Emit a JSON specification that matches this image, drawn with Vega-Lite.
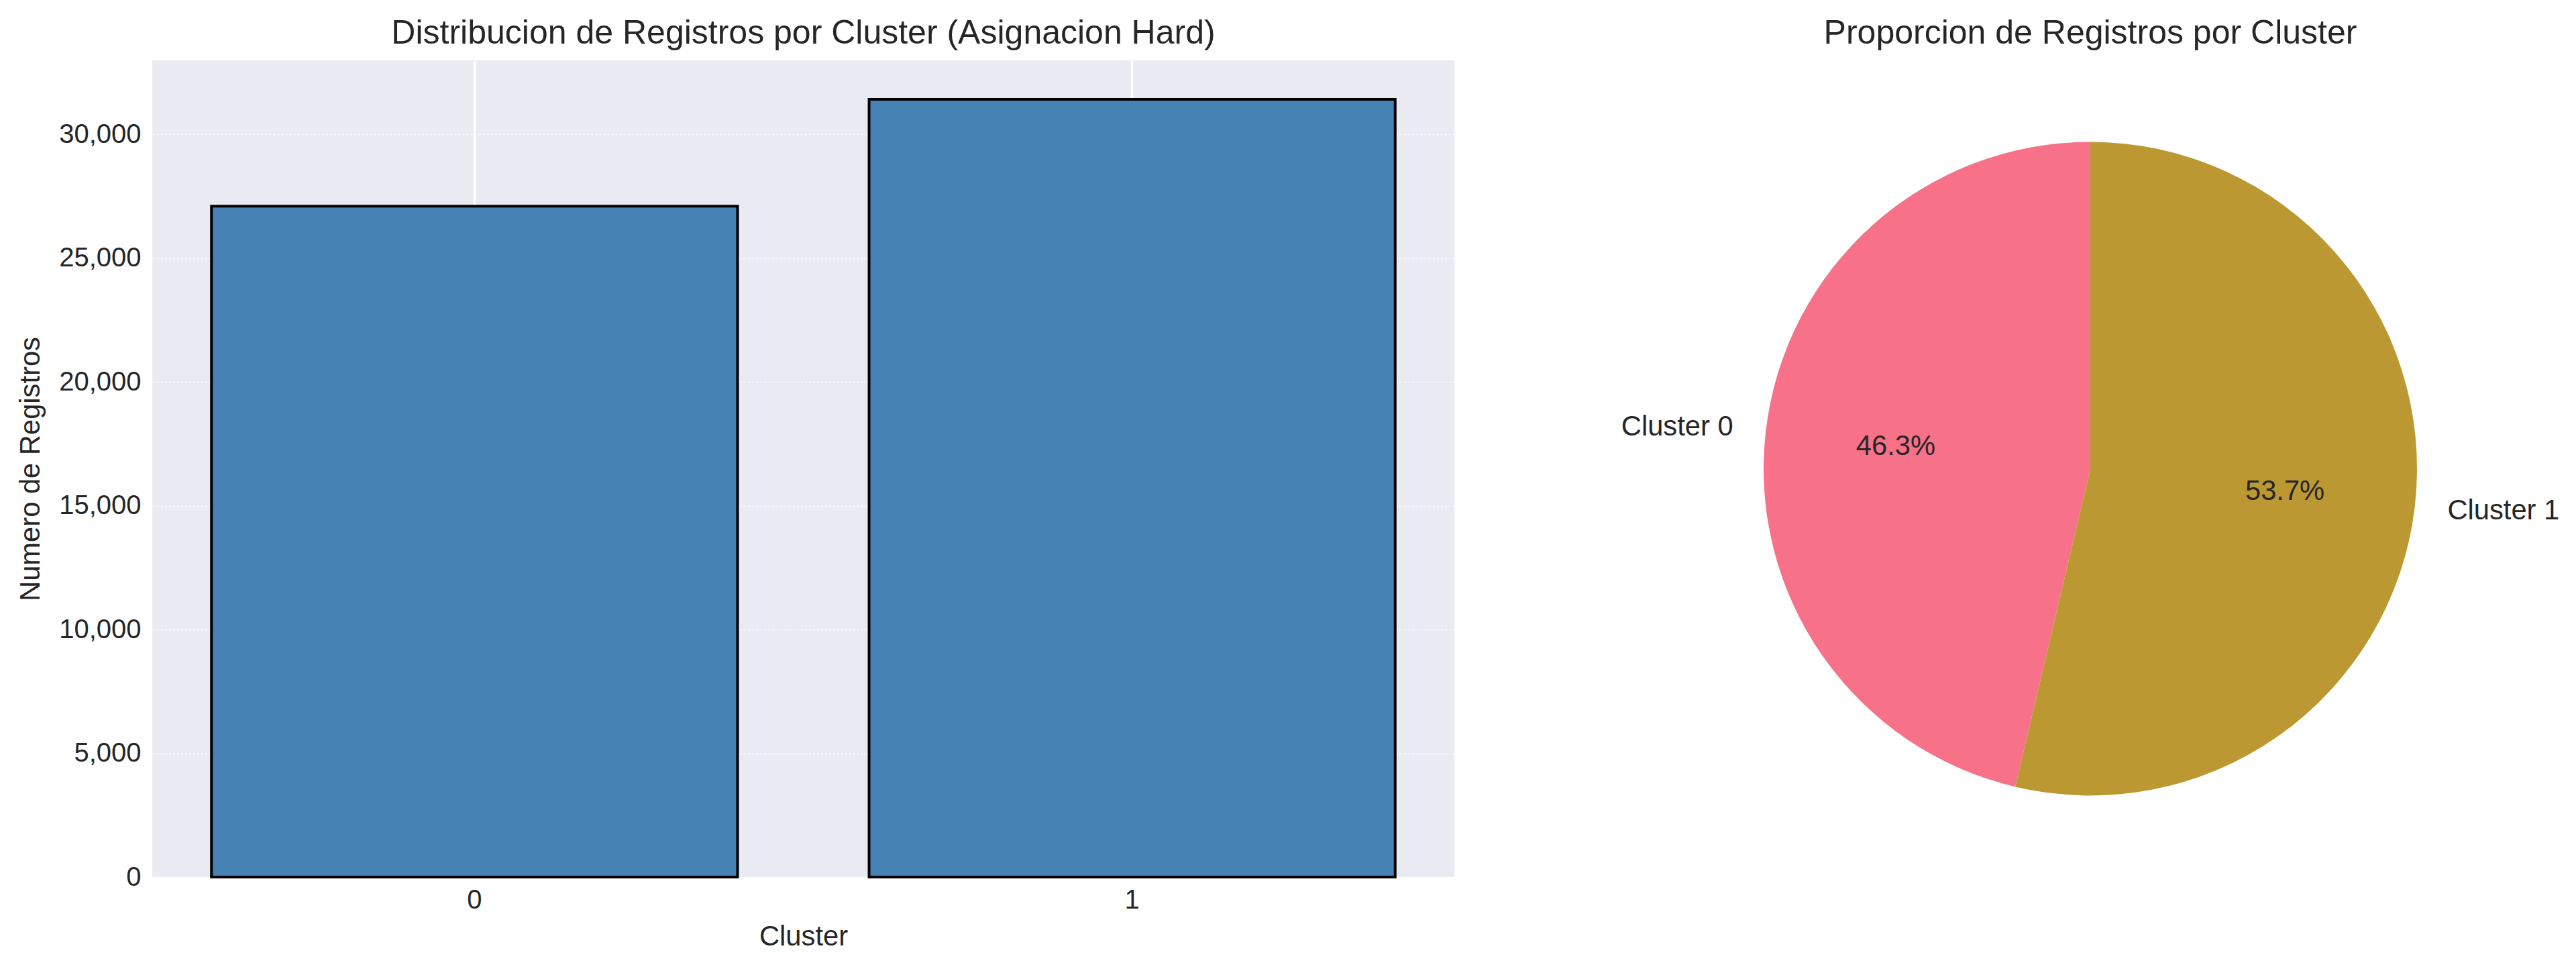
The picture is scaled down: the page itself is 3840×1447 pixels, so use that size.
{
  "$schema": "https://vega.github.io/schema/vega-lite/v6.json",
  "background": "white",
  "padding": {"left": 25, "top": 25, "right": 0, "bottom": 0},
  "datasets": {
    "clusters": [
      {"cluster": 0, "name": "Cluster 0", "registros": 27100, "pct": "46.3%"},
      {"cluster": 1, "name": "Cluster 1", "registros": 31420, "pct": "53.7%"}
    ]
  },
  "data": {"name": "clusters"},
  "config": {
    "font": "Liberation Sans",
    "view": {"stroke": null},
    "title": {"fontSize": 50, "fontWeight": "normal", "color": "#262626", "offset": 15},
    "axis": {
      "labelFont": "Liberation Sans",
      "titleFont": "Liberation Sans",
      "labelFontSize": 40,
      "titleFontSize": 41.7,
      "titleFontWeight": "normal",
      "labelColor": "#262626",
      "titleColor": "#262626",
      "domain": false,
      "ticks": false
    }
  },
  "hconcat": [
    {
      "width": 1941,
      "height": 1217,
      "view": {"fill": "#eaeaf2", "stroke": null},
      "title": {"text": "Distribucion de Registros por Cluster (Asignacion Hard)", "anchor": "middle"},
      "mark": {"type": "bar", "color": "#4682b4", "stroke": "black", "strokeWidth": 4},
      "encoding": {
        "x": {
          "field": "cluster",
          "type": "ordinal",
          "title": "Cluster",
          "scale": {"paddingInner": 0.2, "paddingOuter": 0.09},
          "axis": {
            "labelAngle": 0,
            "labelPadding": 14,
            "titlePadding": 14,
            "grid": true,
            "bandPosition": 0.5,
            "gridColor": "white",
            "gridWidth": 3.5
          }
        },
        "y": {
          "field": "registros",
          "type": "quantitative",
          "title": "Numero de Registros",
          "scale": {"domain": [0, 32991], "nice": false},
          "axis": {
            "values": [0, 5000, 10000, 15000, 20000, 25000, 30000],
            "format": ",d",
            "labelPadding": 17,
            "titlePadding": 20,
            "grid": true,
            "gridColor": "white",
            "gridWidth": 2,
            "gridDash": [3, 3],
            "gridOpacity": 0.7
          }
        }
      }
    },
    {
      "width": 1450,
      "height": 1217,
      "title": {"text": "Proporcion de Registros por Cluster", "anchor": "middle"},
      "encoding": {
        "theta": {"field": "registros", "type": "quantitative", "stack": true},
        "order": {"field": "cluster", "sort": "descending"}
      },
      "layer": [
        {
          "mark": {"type": "arc", "outerRadius": 487},
          "encoding": {
            "color": {
              "field": "cluster",
              "type": "nominal",
              "scale": {"domain": [0, 1], "range": ["#f77189", "#bb9832"]},
              "legend": null
            }
          }
        },
        {
          "mark": {"type": "text", "radius": 536, "align": "right", "baseline": "middle", "fontSize": 41.7, "color": "#262626"},
          "encoding": {
            "text": {"condition": {"test": "datum.cluster == 0", "field": "name"}, "value": ""}
          }
        },
        {
          "mark": {"type": "text", "radius": 536, "align": "left", "baseline": "middle", "fontSize": 41.7, "color": "#262626"},
          "encoding": {
            "text": {"condition": {"test": "datum.cluster == 1", "field": "name"}, "value": ""}
          }
        },
        {
          "mark": {"type": "text", "radius": 292, "align": "center", "baseline": "middle", "fontSize": 41.7, "color": "#262626"},
          "encoding": {
            "text": {"field": "pct", "type": "nominal"}
          }
        }
      ]
    }
  ],
  "spacing": 223
}
